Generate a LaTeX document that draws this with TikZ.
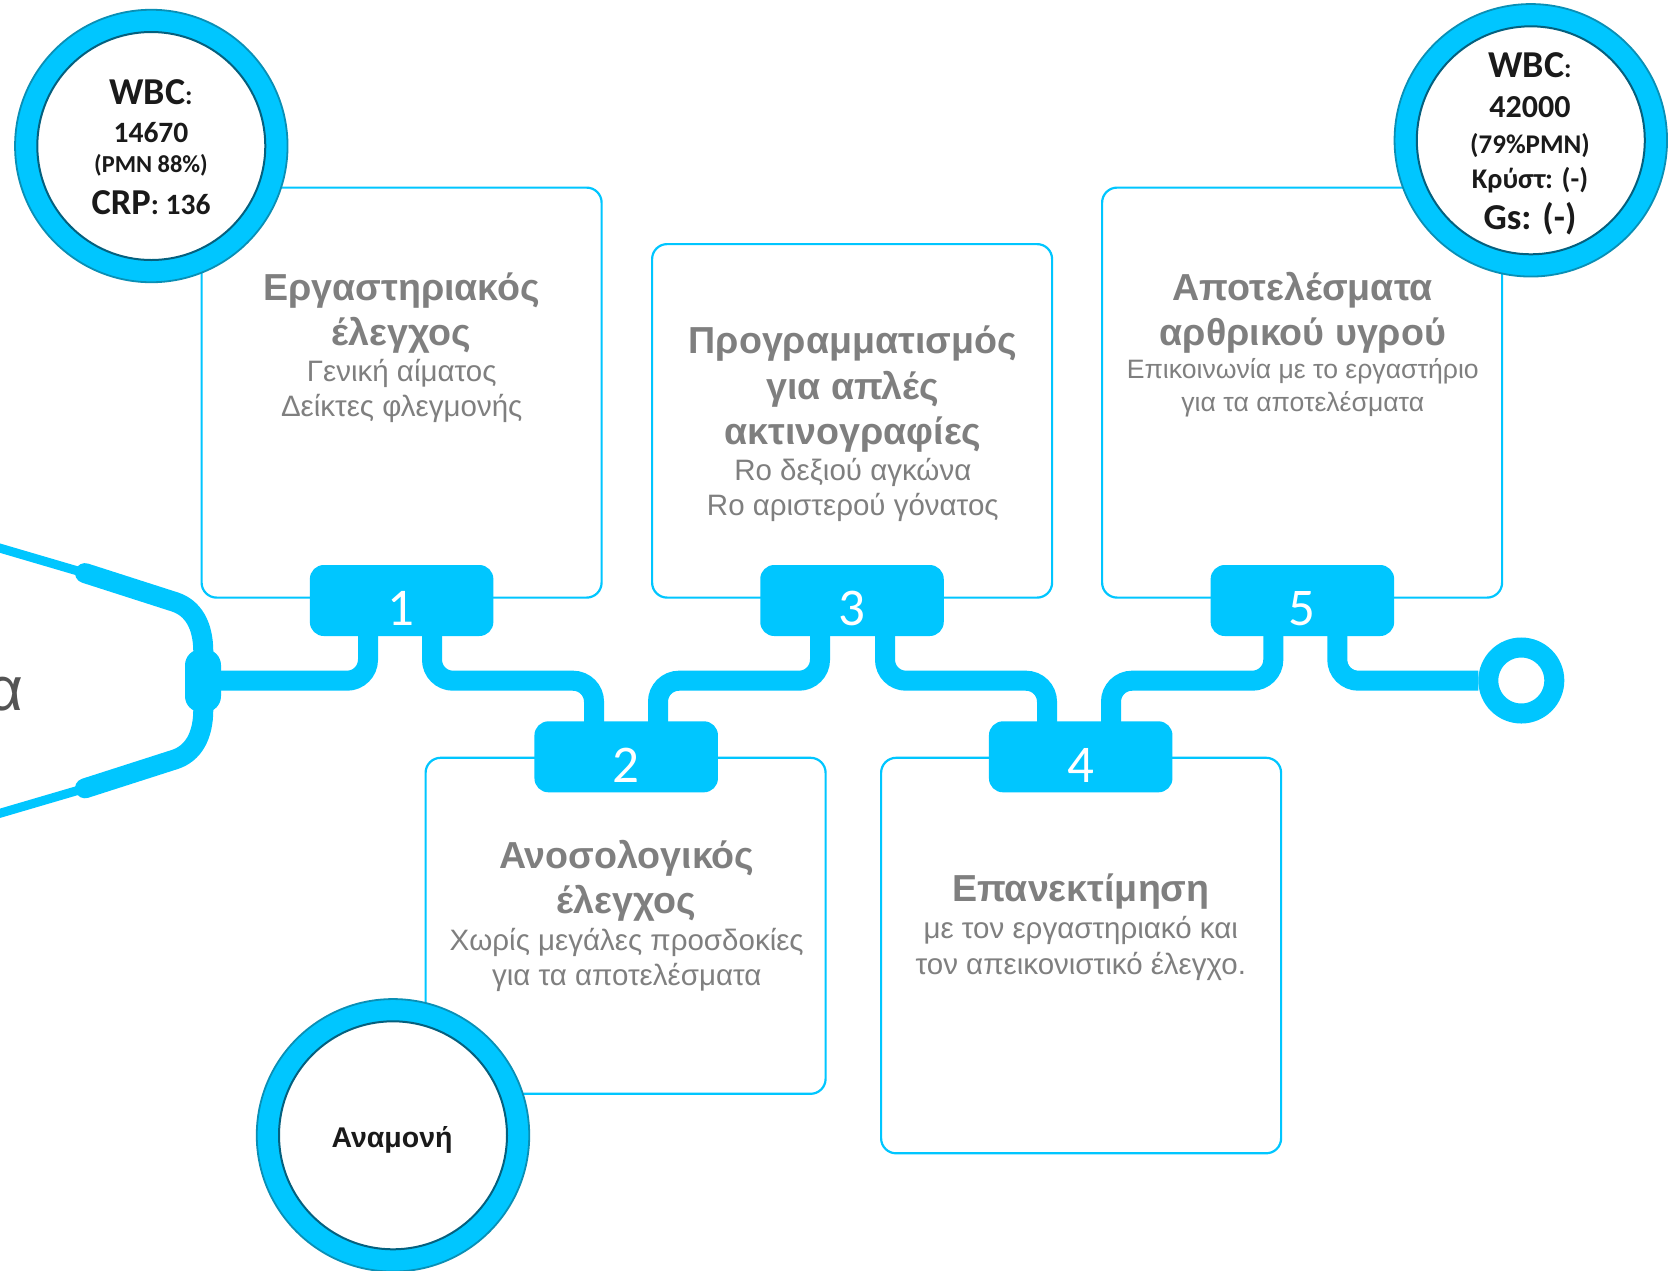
\documentclass[tikz,border=0pt]{standalone}
\usepackage{fontspec}
\setmainfont{Liberation Sans}
\newfontfamily\carl{Carlito}
\newcommand{\fz}[1]{\fontsize{#1}{#1}\selectfont}
\definecolor{cyanb}{HTML}{00C6FF}
\definecolor{greyt}{HTML}{7F7F7F}
\definecolor{inkt}{HTML}{1A1A1A}
\definecolor{ringo}{HTML}{0A8FB5}
\definecolor{ringi}{HTML}{05607E}
\tikzset{
 panel/.style={draw=cyanb,line width=2.2pt,fill=white,rounded corners=15pt,minimum width=400pt,inner sep=0pt,anchor=north west},
 badge/.style={fill=cyanb,rounded corners=14pt,minimum width=183.5pt,minimum height=71pt,inner sep=0pt},
 num/.style={text=white,inner sep=0pt,anchor=base,font=\carl\fz{53}},
 wire/.style={draw=cyanb,line width=20pt,rounded corners=21pt},
 tube/.style={draw=cyanb,line width=20pt,line cap=round},
 thin tube/.style={draw=cyanb,line width=9pt},
 ringo/.style={circle,fill=cyanb,draw=ringo,line width=1.8pt,minimum size=272.5pt,inner sep=0pt},
 ringi/.style={circle,fill=white,draw=ringi,line width=2pt,minimum size=228pt,inner sep=0pt},
 ttl/.style={text=greyt,inner sep=0pt,anchor=base,font=\bfseries\fz{37.6}},
 sub/.style={text=greyt,inner sep=0pt,anchor=base,font=\fz{29.5}},
 subs/.style={text=greyt,inner sep=0pt,anchor=base,font=\fz{26.6}},
 val/.style={text=inkt,inner sep=0pt,anchor=base,font=\carl\bfseries},
}
\begin{document}
\begin{tikzpicture}[x=1pt,y=-1pt]
\useasboundingbox (0,0) rectangle (1676,1270);
\fill[white] (0,0) rectangle (1676,1270);
\coordinate (bus) at (0,680.7);
% panels
\node[panel,minimum height=410pt] (p1) at (200.5,186.5) {};
\node[panel,minimum height=353.5pt] (p3) at (651,243) {};
\node[panel,minimum height=410pt] (p5) at (1101,186.5) {};
\node[panel,minimum height=336pt] (p2) at (424.5,756.7) {};
\node[panel,minimum height=395.5pt] (p4) at (880,756.7) {};
% stethoscope
\node[fill=cyanb,rounded corners=16pt,minimum width=36pt,minimum height=63pt,inner sep=0pt] (chest) at (203,680.7) {};
\coordinate (tu) at (85,573.1);
\coordinate (tl) at (85,788.3);
\coordinate (eu) at (-8,545.8);
\coordinate (el) at (-8,815.6);
\draw[thin tube] (eu) -- (tu);
\draw[thin tube] (el) -- (tl);
\draw[tube] (tu) -- (175,602) .. controls (193,608) and (203.3,625) .. (203.3,652) -- (chest.center);
\draw[tube] (tl) -- (175,759.4) .. controls (193,753.4) and (203.3,736.4) .. (203.3,709.4) -- (chest.center);
\node[text=black!67,inner sep=0pt,anchor=base east,font=\fz{62}] (cut) at (23.5,710.7) {α};
% end ring
\node[circle,draw=cyanb,line width=20pt,minimum size=66pt,inner sep=0pt] (endr) at (1521.3,680.5) {};
% badges
\node[badge] (b1) at (401.6,600.5) {};
\node[badge] (b3) at (852,600.5) {};
\node[badge] (b5) at (1302.4,600.5) {};
\node[badge] (b2) at (626.2,756.8) {};
\node[badge] (b4) at (1080.7,756.8) {};
% wires
\coordinate (l1a) at ([xshift=-33.6pt,yshift=3pt]b1.south);
\coordinate (l1b) at ([xshift=30.4pt,yshift=3pt]b1.south);
\coordinate (l2a) at ([xshift=-32.2pt,yshift=-3pt]b2.north);
\coordinate (l2b) at ([xshift=31.8pt,yshift=-3pt]b2.north);
\coordinate (l3a) at ([xshift=-32pt,yshift=3pt]b3.south);
\coordinate (l3b) at ([xshift=33pt,yshift=3pt]b3.south);
\coordinate (l4a) at ([xshift=-33.7pt,yshift=-3pt]b4.north);
\coordinate (l4b) at ([xshift=30.3pt,yshift=-3pt]b4.north);
\coordinate (l5a) at ([xshift=-29.1pt,yshift=3pt]b5.south);
\coordinate (l5b) at ([xshift=34.9pt,yshift=3pt]b5.south);
\draw[wire] (chest.center) -- (l1a |- bus) -- (l1a);
\draw[wire] (l1b) -- (l1b |- bus) -- (l2a |- bus) -- (l2a);
\draw[wire] (l2b) -- (l2b |- bus) -- (l3a |- bus) -- (l3a);
\draw[wire] (l3b) -- (l3b |- bus) -- (l4a |- bus) -- (l4a);
\draw[wire] (l4b) -- (l4b |- bus) -- (l5a |- bus) -- (l5a);
\draw[wire] (l5b) -- (l5b |- bus) -- (endr.west);
% badge numbers
\node[num] (n1) at (401,625.8) {1};
\node[num] (n3) at (851.5,625.8) {3};
\node[num] (n5) at (1302,625.8) {5};
\node[num] (n2) at (626.3,782) {2};
\node[num] (n4) at (1081,782) {4};
% panel texts
\node[ttl] (a1) at (401.7,300) {Εργαστηριακός};
\node[ttl] (a2) at (401.7,345) {έλεγχος};
\node[sub] (a3) at (401.7,381.7) {Γενική αίματος};
\node[sub] (a4) at (401.7,416.7) {Δείκτες φλεγμονής};
\node[ttl] (c1t) at (852.8,353.5) {Προγραμματισμός};
\node[ttl] (c2t) at (852.8,399.3) {για απλές};
\node[ttl] (c3t) at (852.8,444.5) {ακτινογραφίες};
\node[sub] (c4t) at (852.8,480) {Ro δεξιού αγκώνα};
\node[sub] (c5t) at (852.8,515.3) {Ro αριστερού γόνατος};
\node[ttl] (e1t) at (1302.8,300.5) {Αποτελέσματα};
\node[ttl] (e2t) at (1302.8,345) {αρθρικού υγρού};
\node[subs] (e3t) at (1302.8,378.7) {Επικοινωνία με το εργαστήριο};
\node[subs] (e4t) at (1302.8,411.3) {για τα αποτελέσματα};
\node[ttl] (b1t) at (626.7,868.5) {Ανοσολογικός};
\node[ttl] (b2t) at (626.7,913.7) {έλεγχος};
\node[sub] (b3t) at (626.7,950) {Χωρίς μεγάλες προσδοκίες};
\node[sub] (b4t) at (626.7,985) {για τα αποτελέσματα};
\node[ttl] (d1t) at (1080.8,901) {Επανεκτίμηση};
\node[sub] (d2t) at (1080.8,938.3) {με τον εργαστηριακό και};
\node[sub] (d3t) at (1080.8,974.3) {τον απεικονιστικό έλεγχο.};
% rings
\node[ringo] (r1) at (151.3,146) {};
\node[ringi] (r1i) at (r1.center) {};
\node[ringo] (r2) at (1530.8,140.3) {};
\node[ringi] (r2i) at (r2.center) {};
\node[ringo] (r3) at (393,1135.3) {};
\node[ringi] (r3i) at (r3.center) {};
% ring texts
\node[val] (v1) at (151,104.5) {\fz{38}WBC\fz{27}:};
\node[val] (v2) at (151,142.3) {\fz{29.5}14670};
\node[val] (v3) at (151,172.7) {\fz{24.4}(PMN 88\%)};
\node[val] (v4) at (151,214) {\fz{36.5}CRP\fz{29.5}: 136};
\node[val] (w1) at (1530,77) {\fz{38}WBC\fz{27}:};
\node[val] (w2) at (1530,117.7) {\fz{32}42000};
\node[val] (w3) at (1530,153.3) {\fz{27}(79\%PMN)};
\node[val] (w4) at (1530,188) {\fz{28.5}Κρύστ: (-)};
\node[val] (w5) at (1530,229.5) {\fz{36.5}Gs: (-)};
\node[text=inkt,inner sep=0pt,anchor=base,font=\bfseries\fz{28.5}] (x1) at (392,1147.7) {Αναμονή};
\end{tikzpicture}
\end{document}
